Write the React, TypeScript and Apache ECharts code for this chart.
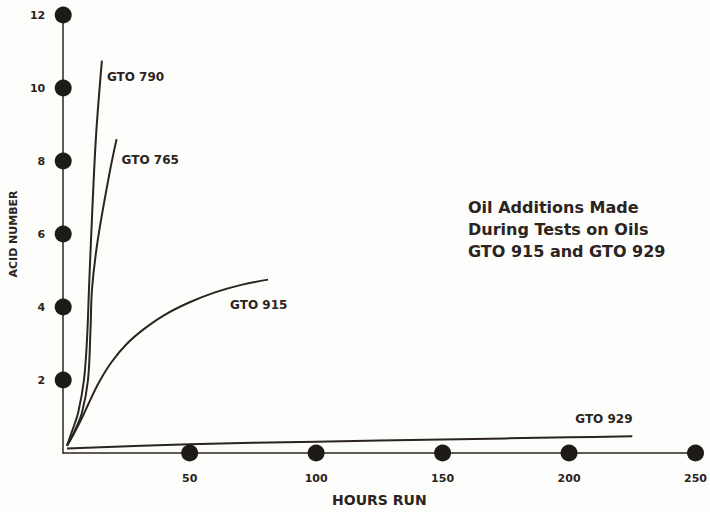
import React, { useEffect, useRef } from "react";
import * as echarts from "echarts";

const xTicks = [50, 100, 150, 200, 250];
const yTicks = [2, 4, 6, 8, 10, 12];

const gto790: [number, number][] = [
  [1.5, 0.2], [3.5, 0.6], [5.9, 1.1], [8.2, 2.0], [9.4, 3.1], [10.2, 4.5], [11, 5.85], [12.9, 8.6], [15.3, 10.75],
];
const gto765: [number, number][] = [
  [1.5, 0.2], [4.5, 0.6], [7.4, 1.1], [9.8, 2.0], [10.8, 3.4], [11.4, 4.5], [13.7, 5.85], [18.4, 7.7], [21.1, 8.6],
];
const gto915: [number, number][] = [
  [1.5, 0.2], [4, 0.5], [7, 0.9], [10, 1.35], [14, 1.92], [19, 2.48], [25, 2.98], [32, 3.4], [40, 3.78],
  [50, 4.13], [60, 4.4], [70, 4.6], [81, 4.75],
];
const gto929: [number, number][] = [
  [1.5, 0.12], [50, 0.24], [100, 0.31], [150, 0.37], [200, 0.43], [225, 0.46],
];

const noteLines = ["Oil Additions Made", "During Tests on Oils", "GTO 915 and GTO 929"];

const INK = "#2b2421";
const FONT = "DejaVu Sans";

export default function App() {
  const ref = useRef<HTMLDivElement>(null);
  useEffect(() => {
    if (!ref.current) return;
    const chart = echarts.init(ref.current, undefined, { renderer: "svg" });
    const lineSeries = (name: string, data: [number, number][], offset: [number, number]) => ({
      type: "line",
      name,
      data,
      smooth: 0.35,
      showSymbol: false,
      symbol: "none",
      lineStyle: { color: INK, width: 2 },
      endLabel: {
        show: true,
        formatter: name,
        color: INK,
        fontFamily: FONT,
        fontWeight: "bold",
        fontSize: 12,
        align: "left",
        verticalAlign: "middle",
        distance: 5,
        offset,
      },
      z: 3,
    });
    chart.setOption({
      animation: false,
      backgroundColor: "#fdfdfb",
      textStyle: { fontFamily: FONT },
      title: {
        text: noteLines.join("\n"),
        left: 463,
        top: 191,
        textStyle: { color: INK, fontFamily: FONT, fontWeight: "bold", fontSize: 16, lineHeight: 22 },
      },
      grid: { left: 63, right: 8, top: 15, bottom: 58 },
      xAxis: {
        type: "value",
        min: 0,
        max: 250,
        interval: 50,
        name: "HOURS RUN",
        nameLocation: "middle",
        nameGap: 40,
        nameTextStyle: { color: INK, fontFamily: FONT, fontWeight: "bold", fontSize: 14 },
        axisLine: { show: true, lineStyle: { color: INK, width: 1.5 } },
        axisTick: { show: false },
        splitLine: { show: false },
        axisLabel: {
          color: INK,
          fontFamily: FONT,
          fontWeight: "bold",
          fontSize: 11,
          margin: 20,
          formatter: (v: number) => (xTicks.includes(v) ? String(v) : ""),
        },
      },
      yAxis: {
        type: "value",
        min: 0,
        max: 12,
        interval: 2,
        name: "ACID NUMBER",
        nameLocation: "middle",
        nameGap: 40,
        nameTextStyle: { color: INK, fontFamily: FONT, fontWeight: "bold", fontSize: 11 },
        axisLine: { show: true, lineStyle: { color: INK, width: 1.5 } },
        axisTick: { show: false },
        splitLine: { show: false },
        axisLabel: {
          color: INK,
          fontFamily: FONT,
          fontWeight: "bold",
          fontSize: 11,
          margin: 18,
          formatter: (v: number) => (yTicks.includes(v) ? String(v) : ""),
        },
      },
      series: [
        {
          type: "scatter",
          data: yTicks.map((v) => [0, v]),
          symbolSize: 17,
          itemStyle: { color: "#1e1a18", opacity: 1 },
          clip: false,
          silent: true,
          z: 4,
        },
        {
          type: "scatter",
          data: xTicks.map((v) => [v, 0]),
          symbolSize: 17,
          itemStyle: { color: "#1e1a18", opacity: 1 },
          clip: false,
          silent: true,
          z: 4,
        },
        lineSeries("GTO 790", gto790, [0, 16]),
        lineSeries("GTO 765", gto765, [0, 21]),
        lineSeries("GTO 915", gto915, [-43, 25]),
        lineSeries("GTO 929", gto929, [-62, -17]),
      ],
    });
    return () => chart.dispose();
  }, []);
  return <div ref={ref} style={{ width: 710, height: 512, position: "absolute", left: 0, top: 0 }} />;
}
